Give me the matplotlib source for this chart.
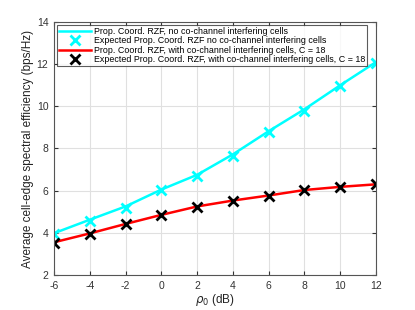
import matplotlib
matplotlib.use('Agg')
import matplotlib.pyplot as plt

plt.rcParams['font.family'] = ['Liberation Sans', 'DejaVu Sans']
plt.rcParams['axes.unicode_minus'] = False

# SNR points (dB)
rho0_db = [-6, -4, -2, 0, 2, 4, 6, 8, 10, 12]

# no co-channel interfering cells
se_no_int_sim = [3.98, 4.62, 5.25, 6.05, 6.75, 7.72, 8.82, 9.86, 11.0, 12.1]
se_no_int_exp = [3.94, 4.58, 5.2, 6.02, 6.7, 7.66, 8.76, 9.8, 10.96, 12.06]

# with co-channel interfering cells, C = 18
se_int_sim = [3.55, 3.97, 4.42, 4.85, 5.25, 5.53, 5.77, 6.03, 6.18, 6.3]
se_int_exp = [3.5, 3.94, 4.4, 4.83, 5.24, 5.52, 5.76, 6.03, 6.18, 6.3]

fig = plt.figure(figsize=(4.15, 3.1), dpi=100)
ax = fig.add_axes([0.130, 0.113, 0.776, 0.816])

ax.plot(rho0_db, se_no_int_sim, color='cyan', lw=1.8,
        label='Prop. Coord. RZF, no co-channel interfering cells')
ax.plot(rho0_db, se_no_int_exp, 'x', color='cyan', ms=7, mew=2, linestyle='none',
        label='Expected Prop. Coord. RZF no co-channel interfering cells')
ax.plot(rho0_db, se_int_sim, color='red', lw=1.8,
        label='Prop. Coord. RZF, with co-channel interfering cells, C = 18')
ax.plot(rho0_db, se_int_exp, 'x', color='black', ms=7, mew=2, linestyle='none',
        label='Expected Prop. Coord. RZF, with co-channel interfering cells, C = 18')

ax.set_xlim(-6, 12)
ax.set_ylim(2, 14)
ax.set_xticks(range(-6, 13, 2))
ax.set_yticks(range(2, 15, 2))
ax.grid(True, color='#e0e0e0', lw=0.8)
ax.set_axisbelow(True)
ax.tick_params(labelsize=7.5, colors='#333333', direction='in', length=3,
               top=True, right=True, pad=4)
for s in ax.spines.values():
    s.set_color('#555555')
    s.set_linewidth(0.8)

ax.set_xlabel(r'$\rho_0$ (dB)', fontsize=8.5, color='#222222', labelpad=1)
ax.set_ylabel('Average cell-edge spectral efficiency (bps/Hz)', fontsize=8.5,
              color='#222222', labelpad=2)

leg = ax.legend(loc='upper left', fontsize=6.4, frameon=True, fancybox=False,
                borderpad=0.25, labelspacing=0.05, handlelength=3.6, handletextpad=0.3,
                borderaxespad=0.3, edgecolor='#333333')
leg.get_frame().set_linewidth(0.8)

fig.savefig('out.png', dpi=100)
